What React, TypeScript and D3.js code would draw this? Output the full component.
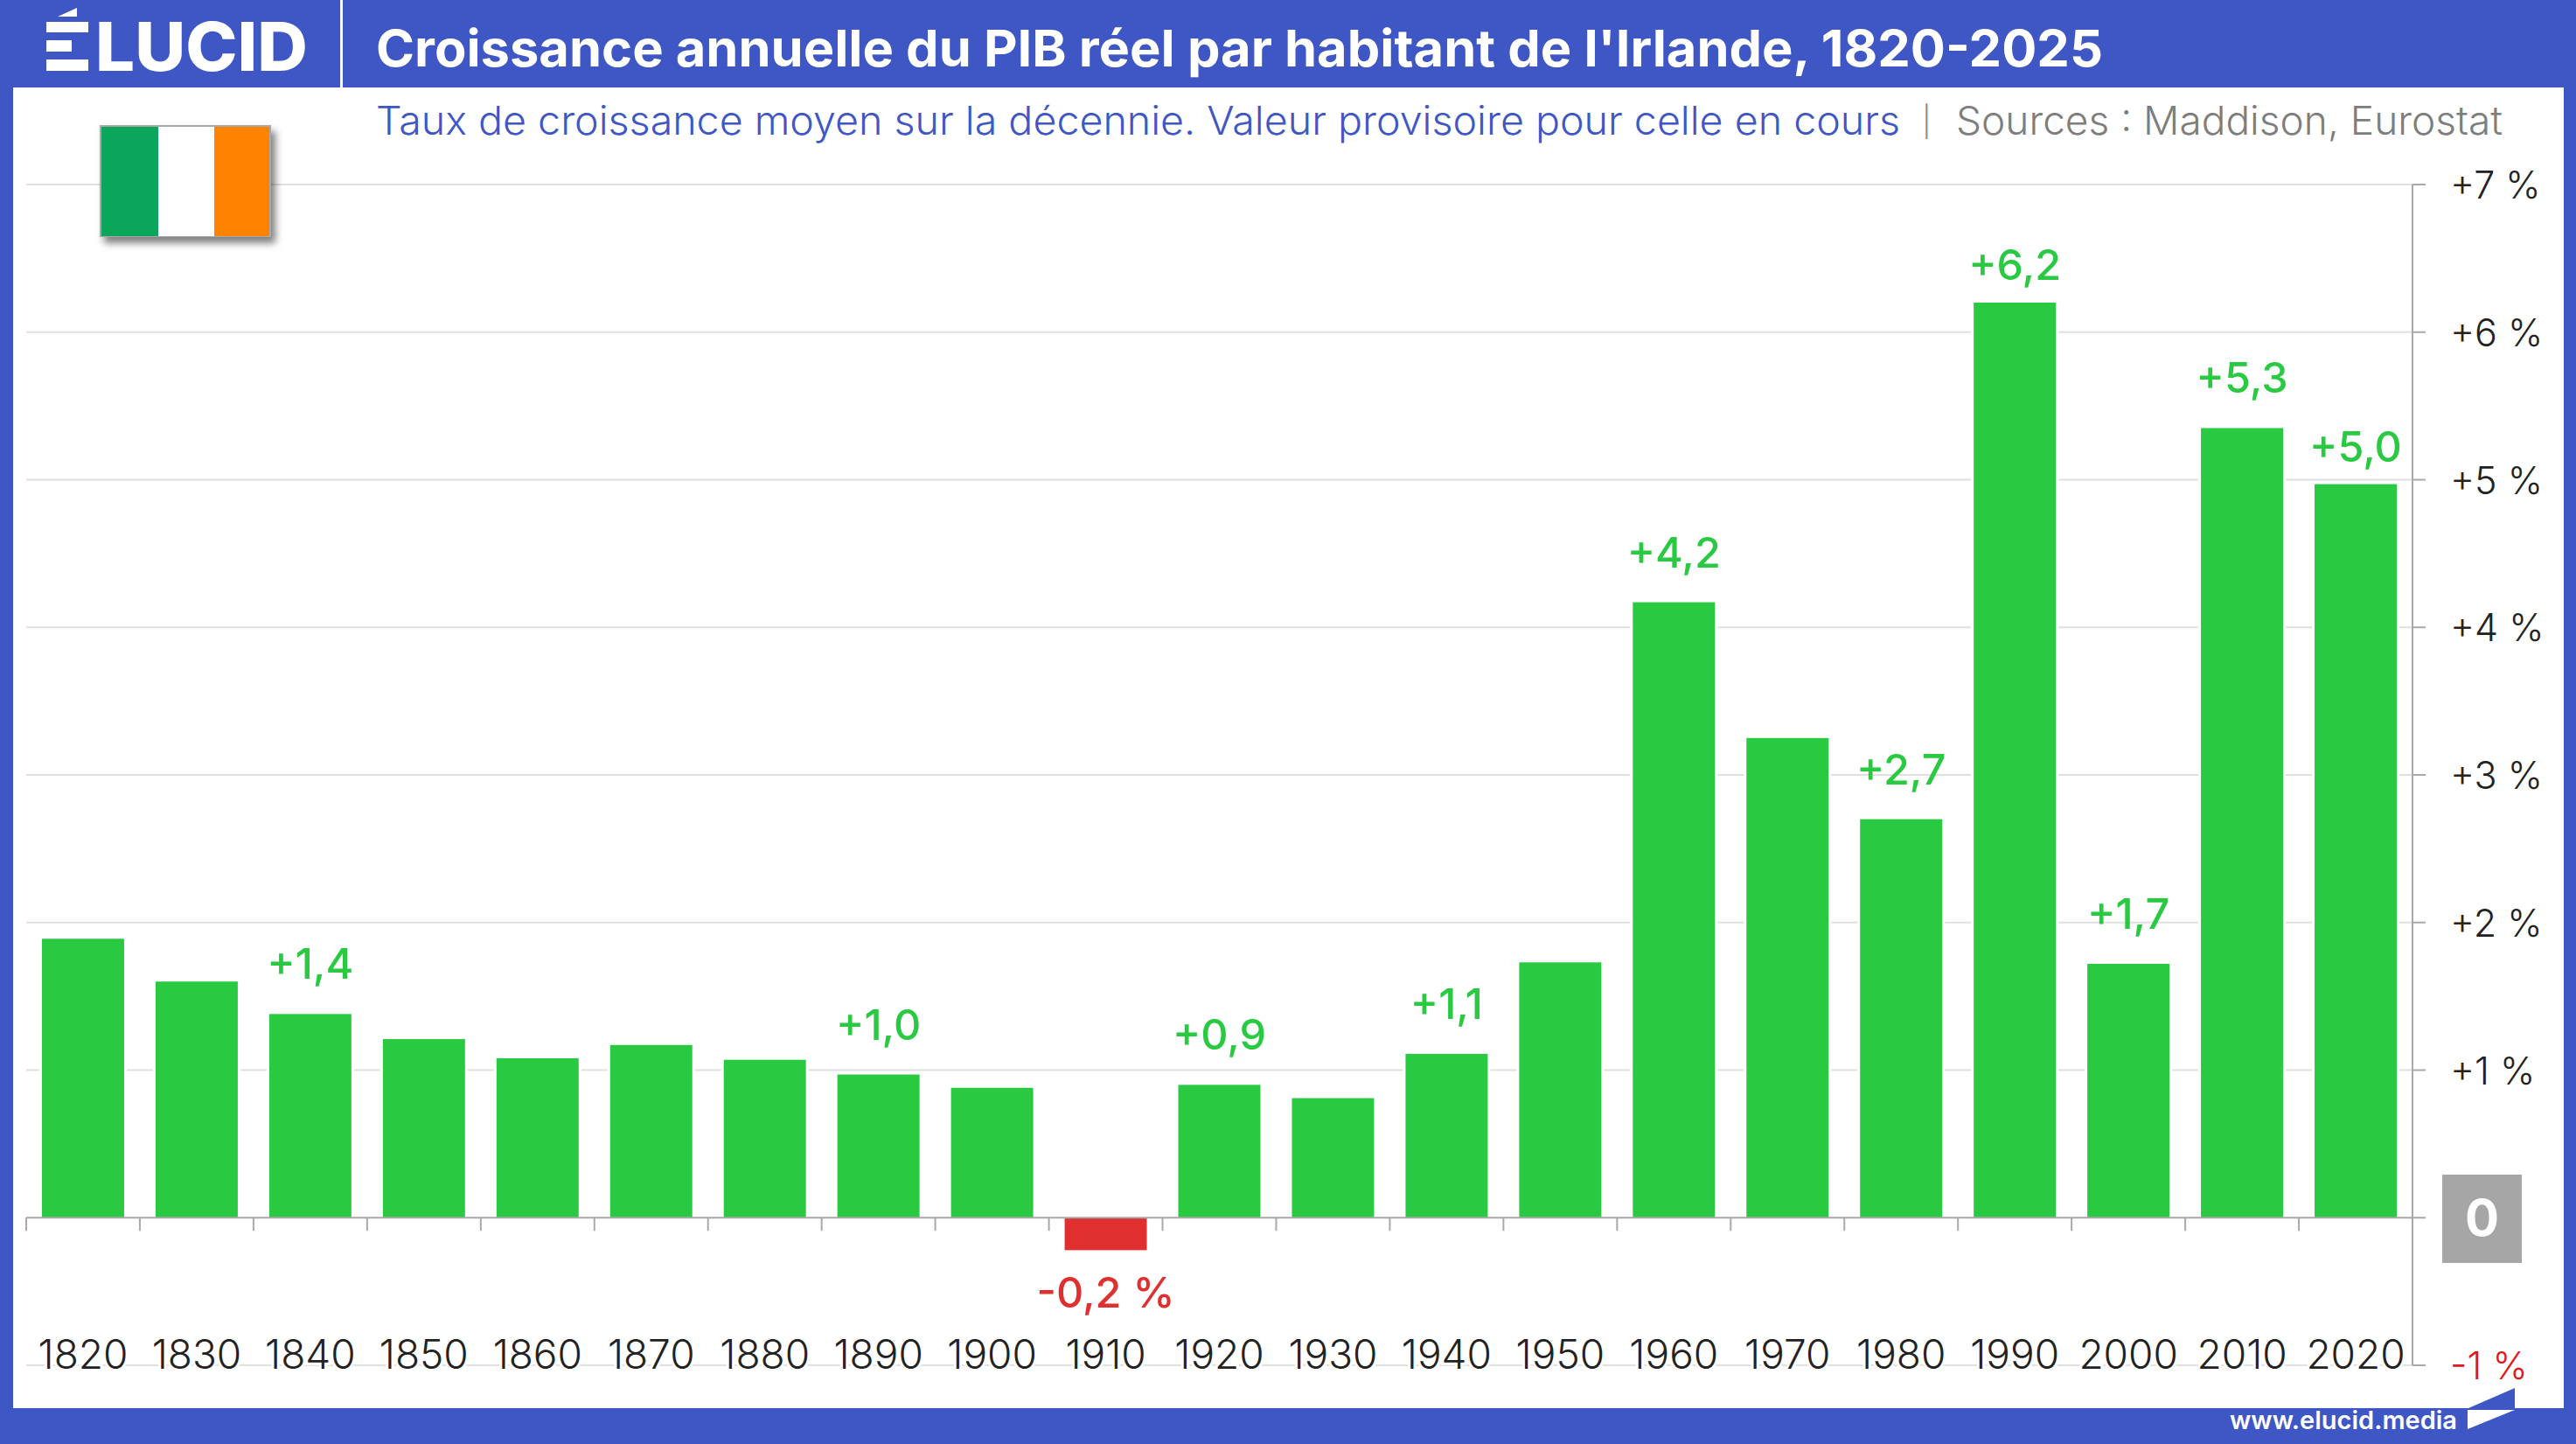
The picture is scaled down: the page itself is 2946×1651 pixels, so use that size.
import * as d3 from 'd3'

const decades = ['1820', '1830', '1840', '1850', '1860', '1870', '1880', '1890', '1900', '1910', '1920', '1930', '1940', '1950', '1960', '1970', '1980', '1990', '2000', '2010', '2020']
const growth = [1.89, 1.6, 1.38, 1.21, 1.08, 1.17, 1.07, 0.97, 0.88, -0.22, 0.9, 0.81, 1.11, 1.73, 4.17, 3.25, 2.7, 6.2, 1.72, 5.35, 4.97]
const labelled = ['1840', '1890', '1910', '1920', '1940', '1960', '1980', '1990', '2000', '2010', '2020']
const labelText = ['+1,4', '+1,0', '-0,2 %', '+0,9', '+1,1', '+4,2', '+2,7', '+6,2', '+1,7', '+5,3', '+5,0']
const tightLabels = ['1990', '2020']
const yTicks = [-1, 1, 2, 3, 4, 5, 6, 7]

const title = "Croissance annuelle du PIB réel par habitant de l'Irlande, 1820-2025"
const subtitle = 'Taux de croissance moyen sur la décennie. Valeur provisoire pour celle en cours'
const sources = 'Sources : Maddison, Eurostat'

const W = 2946
const H = 1651
const BLUE = '#3f57c4'
const GREEN = '#2ac942'
const RED = '#df2f2f'
const AXIS = '#a9a9a9'
const FONT = 'Inter, sans-serif'

const x = d3.scaleBand<string>().domain(decades).range([30, 2759]).paddingInner(0.277).paddingOuter(0.1385)
const y = d3.scaleLinear().domain([-1, 7]).range([1561, 211])

export default function App() {
  const step = x.step()
  const axisTicks = d3.range(decades.length).map((i) => 30 + i * step)
  const y0 = y(0)

  return (
    <svg
      width={W}
      height={H}
      viewBox={`0 0 ${W} ${H}`}
      style={{ position: 'absolute', left: 0, top: 0, display: 'block', fontFamily: FONT }}
    >
      <defs>
        <filter id="flag-shadow" x="-20%" y="-20%" width="140%" height="140%">
          <feDropShadow dx="5" dy="7" stdDeviation="4" floodColor="#000" floodOpacity="0.5" />
        </filter>
      </defs>

      {/* frame */}
      <rect width={W} height={H} fill={BLUE} />
      <rect x={15} y={100} width={2917} height={1510} fill="#fff" />

      {/* header */}
      <rect x={389} y={0} width={3} height={100} fill="#fff" />
      <g fill="#fff">
        <title>ÉLUCID</title>
        <rect x={53} y={25} width={48} height={12} />
        <rect x={53} y={46} width={29} height={13} />
        <rect x={53} y={68} width={48} height={13} />
        <path d={d3.line()([[66, 19], [88, 9], [88, 19]]) + 'Z'} />
        <text x={109} y={81} fontSize={77} fontWeight={800} textLength={243} lengthAdjust="spacingAndGlyphs">
          LUCID
        </text>
      </g>
      <text x={430} y={76} fill="#fff" fontSize={58} fontWeight={700} textLength={1975} lengthAdjust="spacingAndGlyphs">
        {title}
      </text>
      <text x={430} y={154} fill={BLUE} fontSize={45} fontWeight={300} textLength={1743} lengthAdjust="spacingAndGlyphs">
        {subtitle}
      </text>
      <text x={2198} y={151} fill="#8a8a8a" fontSize={34} fontWeight={300}>
        |
      </text>
      <text x={2237} y={154} fill="#7d7d7d" fontSize={45} fontWeight={300} textLength={625} lengthAdjust="spacingAndGlyphs">
        {sources}
      </text>

      {/* grid */}
      {yTicks.map((t) => (
        <line key={t} x1={30} x2={2759} y1={y(t)} y2={y(t)} stroke="#e0e0e0" strokeWidth={2} />
      ))}

      {/* flag */}
      <g filter="url(#flag-shadow)">
        <rect x={114} y={143} width={196} height={128} fill="#a8a8a8" />
      </g>
      <rect x={116} y={145} width={65} height={125} fill="#0ca55c" />
      <rect x={181} y={145} width={64} height={125} fill="#fff" />
      <rect x={245} y={145} width={63} height={125} fill="#ff8300" />

      {/* bars, with the white edge that breaks the grid lines */}
      {decades.map((d, i) => {
        const v = growth[i]
        return (
          <rect
            key={d}
            x={x(d)}
            y={Math.min(y(v), y0)}
            width={x.bandwidth()}
            height={Math.abs(y(v) - y0)}
            fill={v < 0 ? RED : GREEN}
            stroke="#fff"
            strokeWidth={6}
            paintOrder="stroke"
          />
        )
      })}

      {/* x axis */}
      <line x1={30} x2={2774} y1={y0} y2={y0} stroke={AXIS} strokeWidth={2} />
      {axisTicks.map((t) => (
        <line key={t} x1={t} x2={t} y1={y0} y2={y0 + 15} stroke={AXIS} strokeWidth={2} />
      ))}

      {/* y axis */}
      <line x1={2759} x2={2759} y1={y(7)} y2={y(-1)} stroke={AXIS} strokeWidth={2} />
      {yTicks.map((t) => (
        <line key={t} x1={2759} x2={2774} y1={y(t)} y2={y(t)} stroke={AXIS} strokeWidth={2} />
      ))}
      {yTicks.map((t) => (
        <text key={t} x={2802} y={y(t) + 16} fontSize={43} fontWeight={300} fill={t < 0 ? '#e3161c' : '#222'}>
          {`${t > 0 ? '+' : ''}${t} %`}
        </text>
      ))}
      <rect x={2793} y={1343} width={91} height={101} fill="#a6a6a6" />
      <text x={2838.5} y={y0 + 21} textAnchor="middle" fontSize={58} fontWeight={700} fill="#fff">
        0
      </text>

      {/* year labels */}
      {decades.map((d) => (
        <text
          key={d}
          x={(x(d) as number) + x.bandwidth() / 2}
          y={1565}
          textAnchor="middle"
          fontSize={46}
          fontWeight={300}
          fill="#222"
          stroke="#fff"
          strokeWidth={6}
          paintOrder="stroke"
        >
          {d}
        </text>
      ))}

      {/* value labels */}
      {labelled.map((d, i) => {
        const v = growth[decades.indexOf(d)]
        const cx = (x(d) as number) + x.bandwidth() / 2
        const ly = v < 0 ? y(v) + 66 : y(v) - (tightLabels.includes(d) ? 26 : 40)
        return (
          <text key={d} x={cx} y={ly} textAnchor="middle" fontSize={48.5} fontWeight={500} fill={v < 0 ? RED : GREEN}>
            {labelText[i]}
          </text>
        )
      })}

      {/* footer */}
      <text x={2810} y={1634} textAnchor="end" fontSize={29} fontWeight={600} fill="#fff" textLength={260} lengthAdjust="spacing">
        www.elucid.media
      </text>
      <path d={d3.line()([[2823, 1610], [2876, 1587], [2876, 1610]]) + 'Z'} fill={BLUE} />
      <path d={d3.line()([[2822, 1612], [2876, 1612], [2822, 1634]]) + 'Z'} fill="#fff" />
    </svg>
  )
}
